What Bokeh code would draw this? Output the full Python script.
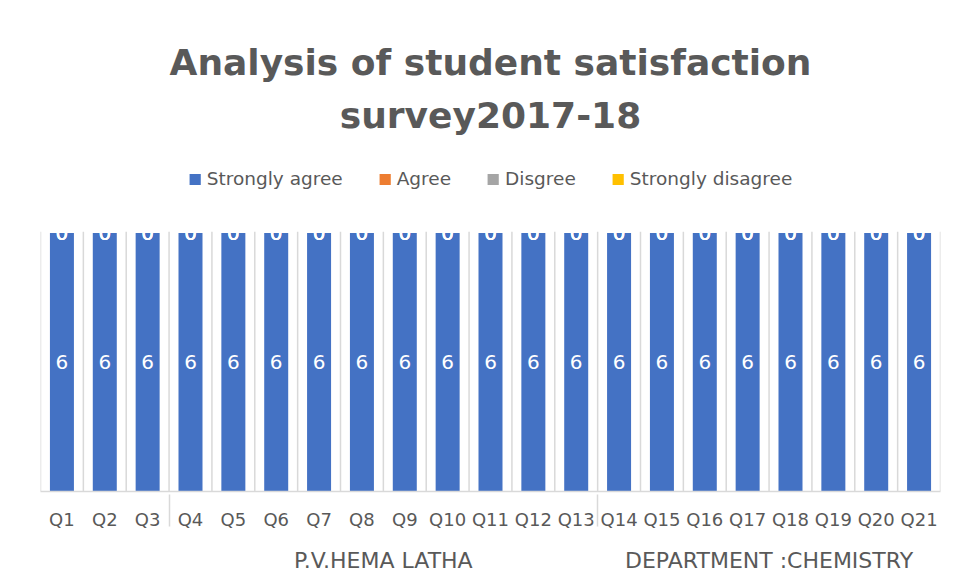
from bokeh.plotting import figure
from bokeh.models import (FactorRange, Range1d, CategoricalAxis, Title, Legend,
                          LegendItem, ColumnDataSource)
from bokeh.core.properties import value
from bokeh.embed import file_html
from bokeh.resources import INLINE

# ---------------- data ----------------
title_lines = ["Analysis of student satisfaction", "survey2017-18"]
questions = ["Q1", "Q2", "Q3", "Q4", "Q5", "Q6", "Q7", "Q8", "Q9", "Q10", "Q11",
             "Q12", "Q13", "Q14", "Q15", "Q16", "Q17", "Q18", "Q19", "Q20", "Q21"]
question_groups = ["", "", "",
                   "P.V.HEMA LATHA", "P.V.HEMA LATHA", "P.V.HEMA LATHA", "P.V.HEMA LATHA",
                   "P.V.HEMA LATHA", "P.V.HEMA LATHA", "P.V.HEMA LATHA", "P.V.HEMA LATHA",
                   "P.V.HEMA LATHA", "P.V.HEMA LATHA",
                   "DEPARTMENT :CHEMISTRY", "DEPARTMENT :CHEMISTRY", "DEPARTMENT :CHEMISTRY",
                   "DEPARTMENT :CHEMISTRY", "DEPARTMENT :CHEMISTRY", "DEPARTMENT :CHEMISTRY",
                   "DEPARTMENT :CHEMISTRY", "DEPARTMENT :CHEMISTRY"]
series_names = ["Strongly agree", "Agree", "Disgree", "Strongly disagree"]
strongly_agree = [6, 6, 6, 6, 6, 6, 6, 6, 6, 6, 6, 6, 6, 6, 6, 6, 6, 6, 6, 6, 6]
agree = [0, 0, 0, 0, 0, 0, 0, 0, 0, 0, 0, 0, 0, 0, 0, 0, 0, 0, 0, 0, 0]
disgree = [0, 0, 0, 0, 0, 0, 0, 0, 0, 0, 0, 0, 0, 0, 0, 0, 0, 0, 0, 0, 0]
strongly_disagree = [0, 0, 0, 0, 0, 0, 0, 0, 0, 0, 0, 0, 0, 0, 0, 0, 0, 0, 0, 0, 0]
series_values = [strongly_agree, agree, disgree, strongly_disagree]
colors = ["#4472C4", "#ED7D31", "#A5A5A5", "#FFC000"]
axis_max = 6.03     # top of the plotting area in the original chart
y_top = 8.15        # extra room above for the legend

# ---------------- build ----------------
factors = list(zip(question_groups, questions))
data = {"x": factors}
for name, vals in zip(series_names, series_values):
    data[name] = vals
src = ColumnDataSource(data)

p = figure(width=949, height=575, x_range=FactorRange(*factors, factor_padding=0,
           group_padding=0, subgroup_padding=0, range_padding=0),
           y_range=Range1d(0, y_top), x_axis_location=None, y_axis_location=None,
           toolbar_location=None, output_backend="svg",
           min_border_left=40, min_border_right=9, min_border_bottom=0, min_border_top=0)
p.outline_line_color = None
p.xgrid.visible = False
p.ygrid.visible = False

grid_color = "#d9d9d9"
# category boundary lines inside the plot area
edges = [(g, q, -0.5) for g, q in factors] + [(factors[-1][0], factors[-1][1], 0.5)]
p.segment(x0=edges, x1=edges, y0=[0] * len(edges), y1=[axis_max] * len(edges),
          line_color=grid_color, line_width=1.5)

renderers = p.vbar_stack(series_names, x="x", width=0.56, color=colors,
                         line_color=None, source=src)

# data labels
lx, ly, lt = [], [], []
base = [0] * len(factors)
for vals in series_values:
    for i, v in enumerate(vals):
        lx.append(factors[i])
        ly.append(base[i] + v / 2)
        lt.append(str(v))
        base[i] += v
p.text(x=lx, y=ly, text=lt, text_color="white", text_align="center",
       text_baseline="middle", text_font=value("DejaVu Sans"), text_font_size="20px")

# axes
ax1 = CategoricalAxis(axis_line_color=grid_color, axis_line_width=1.5,
                      major_tick_line_color=None, major_tick_out=0, major_tick_in=0,
                      major_label_text_font="DejaVu Sans", major_label_text_font_size="18px",
                      major_label_text_color="#595959", major_label_standoff=17,
                      group_text_alpha=0, group_text_font_size="1px",
                      separator_line_color=grid_color, separator_line_width=1.5)
ax2 = CategoricalAxis(axis_line_color=None,
                      major_tick_line_color=None, major_tick_out=0, major_tick_in=0,
                      major_label_text_font_size="1px", major_label_text_alpha=0,
                      major_label_standoff=15,
                      group_text_font="DejaVu Sans", group_text_font_size="22px",
                      group_text_font_style="normal",
                      group_text_color="#595959", separator_line_color=None)
p.add_layout(ax1, "below")
p.add_layout(ax2, "below")

legend = Legend(items=[LegendItem(label=n, renderers=[r]) for n, r in zip(series_names, renderers)],
                orientation="horizontal", location="top_center",
                label_text_font="DejaVu Sans", label_text_font_size="18.5px",
                label_text_color="#595959", glyph_width=14, glyph_height=14,
                label_standoff=5, spacing=35, border_line_color=None,
                background_fill_alpha=0, padding=0, margin=28)
p.add_layout(legend, "center")
for line in reversed(title_lines):
    p.add_layout(Title(text=line, align="center", text_font="DejaVu Sans",
                       text_font_size="36px", text_font_style="bold",
                       text_color="#595959", standoff=10), "above")
p.add_layout(Title(text=" ", text_font_size="20px", standoff=10), "above")

open("out.html", "w").write(file_html(p, INLINE))
